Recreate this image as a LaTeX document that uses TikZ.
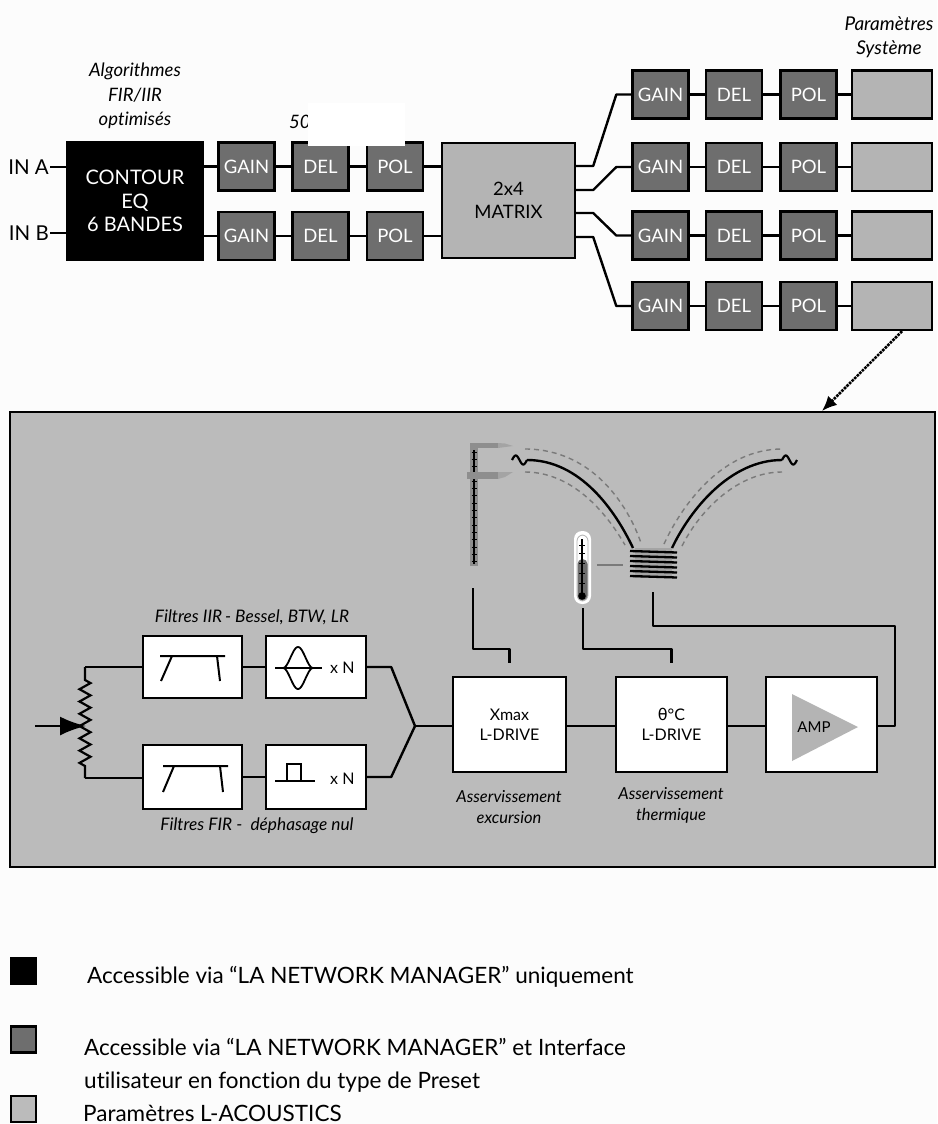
\documentclass[tikz,border=0pt]{standalone}
\usepackage{fontspec}
\setmainfont{Lato}[Ligatures=NoCommon]
\newfontfamily\grk{DejaVu Sans}
\usetikzlibrary{arrows.meta,calc}

\definecolor{bg}{HTML}{FCFCFC}
\definecolor{dkbox}{HTML}{6E6E6E}
\definecolor{ltbox}{HTML}{B4B4B4}
\definecolor{panelgray}{HTML}{BBBBBB}
\definecolor{cablegray}{HTML}{7A7A7A}
\definecolor{toolgray}{HTML}{8E8E8E}
\definecolor{tipgray}{HTML}{A4A4A4}

\begin{document}
\begin{tikzpicture}[x=1pt,y=-1pt,
  wire/.style={line width=2.4pt, line join=round},
  lbl/.style={font=\fontsize{20.5}{23}\selectfont, inner sep=1pt},
  note/.style={font=\itshape\fontsize{16.5}{21}\selectfont, align=center, inner sep=0pt},
  blk/.style={draw, line width=2.4pt, inner sep=0pt, align=center},
  eqbox/.style={blk, fill=black, text=white, font=\fontsize{20}{23.5}\selectfont,
    minimum width=136pt, minimum height=118pt},
  userbox/.style={blk, fill=dkbox, text=white, font=\fontsize{18.5}{20}\selectfont,
    minimum width=56pt, minimum height=48pt},
  sysbox/.style={blk, fill=ltbox, minimum width=80pt, minimum height=48pt},
  procbox/.style={blk, fill=white, font=\fontsize{16}{20}\selectfont,
    minimum width=112pt, minimum height=95pt},
  filtbox/.style={blk, fill=white, minimum width=99pt, minimum height=62pt},
  legend/.style={font=\fontsize{22.5}{33}\selectfont, anchor=base west, inner sep=0pt},
  keybox/.style={draw, line width=2.5pt, minimum width=25pt, minimum height=26pt, inner sep=0pt}
]
% page
\fill[bg] (0,0) rectangle (937,1124);

% ---------- input stage ----------
\node[note, font=\itshape\fontsize{18.5}{24.5}\selectfont] (algo) at (135,96) {Algorithmes\\FIR/IIR\\optimisés};
\node[eqbox] (eq) at (135,201) {CONTOUR\\EQ\\6 BANDES};
\node[lbl, anchor=east] (ina) at (50,167) {IN A};
\node[lbl, anchor=east] (inb) at (50,233) {IN B};
\draw[wire] (ina.east) -- (ina.east -| eq.west);
\draw[wire] (inb.east) -- (inb.east -| eq.west);

\foreach \r/\yy in {a/166.5, b/236}{
  \node[userbox] (g\r) at (246.5,\yy) {GAIN};
  \node[userbox] (d\r) at (320.5,\yy) {DEL};
  \node[userbox] (p\r) at (395,\yy) {POL};
  \draw[wire] (g\r.west -| eq.east) -- (g\r.west);
  \draw[wire] (g\r) -- (d\r);
  \draw[wire] (d\r) -- (p\r);
}
\node[blk, fill=ltbox, font=\fontsize{18.5}{23}\selectfont, minimum width=133pt, minimum height=115pt] (mx) at (508.5,200.5) {2x4\\MATRIX};
\draw[wire] (pa) -- (pa -| mx.west);
\draw[wire] (pb) -- (pb -| mx.west);

% label partly hidden under a white patch
\node[note, font=\itshape\fontsize{18.5}{20}\selectfont, anchor=west] (fifty) at (289,122) {50};
\fill[white] (308,103) rectangle (405,146);

% ---------- output stage ----------
\node[note, font=\itshape\fontsize{19}{23.5}\selectfont] (psys) at (889,37) {Paramètres\\Système};
\foreach \i/\yy/\yo in {1/94.5/-34.5, 2/167/-10.5, 3/235.5/12.5, 4/306/36.5}{
  \node[userbox] (g\i) at (660.5,\yy) {GAIN};
  \node[userbox] (d\i) at (734,\yy) {DEL};
  \node[userbox] (p\i) at (808.5,\yy) {POL};
  \node[sysbox] (s\i) at (892,\yy) {};
  \draw[wire] (g\i) -- (d\i);
  \draw[wire] (d\i) -- (p\i);
  \draw[wire] (p\i) -- (s\i);
  \draw[wire] ($(mx.east)+(0,\yo)$) -- ++(17,0) -- ($(g\i.west)+(-15,0)$) -- (g\i.west);
}

% ---------- loudspeaker processing panel ----------
\node[draw, line width=2.6pt, fill=panelgray, minimum width=925pt, minimum height=455pt, inner sep=0pt] (panel) at (472.5,639.5) {};
\coordinate (pin) at (822,411);
\draw[densely dotted, line width=2.6pt, -{Latex[length=15pt,width=13pt]}] ([xshift=10pt]s4.south) -- (pin);

% input potentiometer
\coordinate (pot) at (86,726);
\draw[wire, -{Latex[length=26pt,width=19pt]}] (35,726) -- (pot);
\draw[line width=2.2pt, line join=miter]
  (85,667) -- (85,680)
  \foreach \k in {0,...,13}{ -- ({85+5.5*cos(180*\k)},{680+(\k+0.5)*6.14}) }
  -- (85,766) -- (85,778);

% filter boxes
\node[filtbox] (iir) at (192.5,667) {};
\node[filtbox, minimum width=100pt] (bell) at (316,667) {};
\node[filtbox, minimum height=64pt] (fir) at (192.5,777) {};
\node[filtbox, minimum width=100pt, minimum height=64pt] (pulse) at (316,777) {};
\draw[wire] (85,667) -- (iir.west);
\draw[wire] (85,778) -- (fir.west |- 0,778);
\draw[wire] (iir) -- (bell);
\draw[wire] (fir) -- (pulse);

\node[note, font=\itshape\fontsize{17.3}{21}\selectfont] (iirtxt) at (252,617) {Filtres IIR\,- Bessel, BTW, LR};
\node[note, font=\itshape\fontsize{17.3}{21}\selectfont] (firtxt) at (257,826) {Filtres FIR -\ \ déphasage nul};

% band-pass symbols
\draw[line width=2pt] (160,656) -- (225,656) (172,656) -- (161,681) (217,656) -- (220,681);
\draw[line width=2pt] (163,766) -- (228,766) (174,766) -- (163,792) (220,766) -- (223,792);
% parametric bell symbol
\draw[line width=1.8pt] (275,668) -- (322,668);
\draw[line width=1.8pt, smooth] plot[domain=-15:15, samples=31] ({298+\x},{668-21*(1+cos(12*\x))/2});
\draw[line width=1.8pt, smooth] plot[domain=-15:15, samples=31] ({298+\x},{668+21*(1+cos(12*\x))/2});
\node[lbl, font=\fontsize{16}{20}\selectfont, anchor=west] (xn1) at (329,668) {x N};
% rectangular pulse symbol
\draw[line width=1.8pt] (275,781) -- (315,781) (287,781) -- (287,764) -- (301,764) -- (301,781);
\node[lbl, font=\fontsize{16}{20}\selectfont, anchor=west] (xn2) at (329,779) {x N};

% merge of both paths
\coordinate (mrg) at (415,726);
\draw[wire] (bell.east) -- ++(24,0) -- (mrg);
\draw[wire] (pulse.east) -- ++(24,0) -- (mrg);

% drive chain
\node[procbox, minimum width=113pt] (xmax) at (509.5,724.5) {Xmax\\L-DRIVE};
\node[procbox, minimum width=111pt] (temp) at (671.5,724.5) {{\grk θ}°C\\L-DRIVE};
\node[procbox, minimum width=111pt] (amp) at (821.5,724.5) {};
\fill[ltbox] (792,694) -- (792,761) -- (858,727) -- cycle;
\node[lbl, font=\fontsize{15}{18}\selectfont] (amptxt) at (814,727) {AMP};
\draw[wire] (mrg) -- (xmax.west |- mrg);
\draw[wire] (xmax.east |- mrg) -- (temp.west |- mrg);
\draw[wire] (temp.east |- mrg) -- (amp.west |- mrg);

\node[note] (asx) at (509,807) {Asservissement\\excursion};
\node[note] (ast) at (671,805) {Asservissement\\thermique};

% excursion sensor (caliper)
\fill[toolgray] (470,448) rectangle (478,566);
\draw[line width=1.2pt] (474,450) -- (474,564);
\foreach \t in {0,...,15} \draw[line width=0.7pt] (471.5,{452+\t*7.3}) -- (476.5,{452+\t*7.3});
\fill[toolgray] (470,443) rectangle (498,448);
\fill[tipgray] (498,443) -- (505,443.5) -- (513,446) -- (498,448) -- cycle;
\fill[toolgray] (467,472) rectangle (498,479);
\fill[tipgray] (498,472) -- (513,472) -- (505,477) -- (498,479) -- cycle;

% voice-coil cables
\draw[cablegray, line width=1.4pt, dash pattern=on 5pt off 4pt] (525,449) .. controls (592,449) and (628,505) .. (641,543);
\draw[cablegray, line width=1.4pt, dash pattern=on 5pt off 4pt] (525,472) .. controls (572,472) and (606,512) .. (625,545);
\draw[cablegray, line width=1.4pt, dash pattern=on 5pt off 4pt] (664,544) .. controls (682,505) and (722,449) .. (782,449);
\draw[cablegray, line width=1.4pt, dash pattern=on 5pt off 4pt] (682,546) .. controls (700,510) and (738,472) .. (782,472);
\draw[line width=2.4pt] (527,460) .. controls (580,460) and (615,510) .. (633,548);
\draw[line width=2.4pt] (672,548) .. controls (690,510) and (730,460) .. (782,460);
\draw[line width=2.2pt, smooth] plot[domain=0:1, samples=25] ({512+15*\x},{460-4.5*sin(360*\x)});
\draw[line width=2.2pt, smooth] plot[domain=0:1, samples=25] ({782+15*\x},{460-4.5*sin(360*\x)});

% voice coil
\fill[toolgray!80!white] (635,548) rectangle (672,578);
\foreach \w in {0,...,5} \draw[line width=2.3pt] (630,{551+\w*5}) -- (677,{552.5+\w*5});
\coordinate (coil) at (653,592);

% thermometer
\fill[white, rounded corners=8pt] (574,531) rectangle (591,604);
\draw[gray!60, line width=0.8pt, rounded corners=6pt] (577,535) rectangle (588,601);
\fill[dkbox, rounded corners=5pt] (577.5,559) rectangle (587.5,600.5);
\draw[line width=2pt] (582,539) -- (582,596);
\fill (582,596) circle (3.8pt);
\foreach \t in {545,553,563,573,583} \draw[line width=0.7pt] (579,\t) -- (585,\t);
\draw[cablegray, line width=1.4pt] (597,565) -- (623,565);

% sensor links
\draw[wire] (473,588) -- (473,649) -- (xmax.north |- 0,649) -- ([yshift=13pt]xmax.north);
\draw[wire] (583,608) -- (583,649) -- (temp.north |- 0,649) -- ([yshift=13pt]temp.north);
\draw[wire] (amp.east |- mrg) -- (895,726) -- (895,626) -- (653,626) -- (coil);

% ---------- legend ----------
\node[keybox, fill=black] (k1) at (23.5,971) {};
\node[legend] (t1) at (87,983) {Accessible via “LA NETWORK MANAGER” uniquement};
\node[keybox, fill=dkbox] (k2) at (23.5,1039.5) {};
\node[legend] (t2) at (84,1055) {Accessible via “LA NETWORK MANAGER” et Interface};
\node[legend] (t2b) at (84,1088) {utilisateur en fonction du type de Preset};
\node[keybox, fill=panelgray] (k3) at (23.5,1109) {};
\node[legend] (t3) at (83,1121) {Paramètres L-ACOUSTICS};
\end{tikzpicture}
\end{document}
